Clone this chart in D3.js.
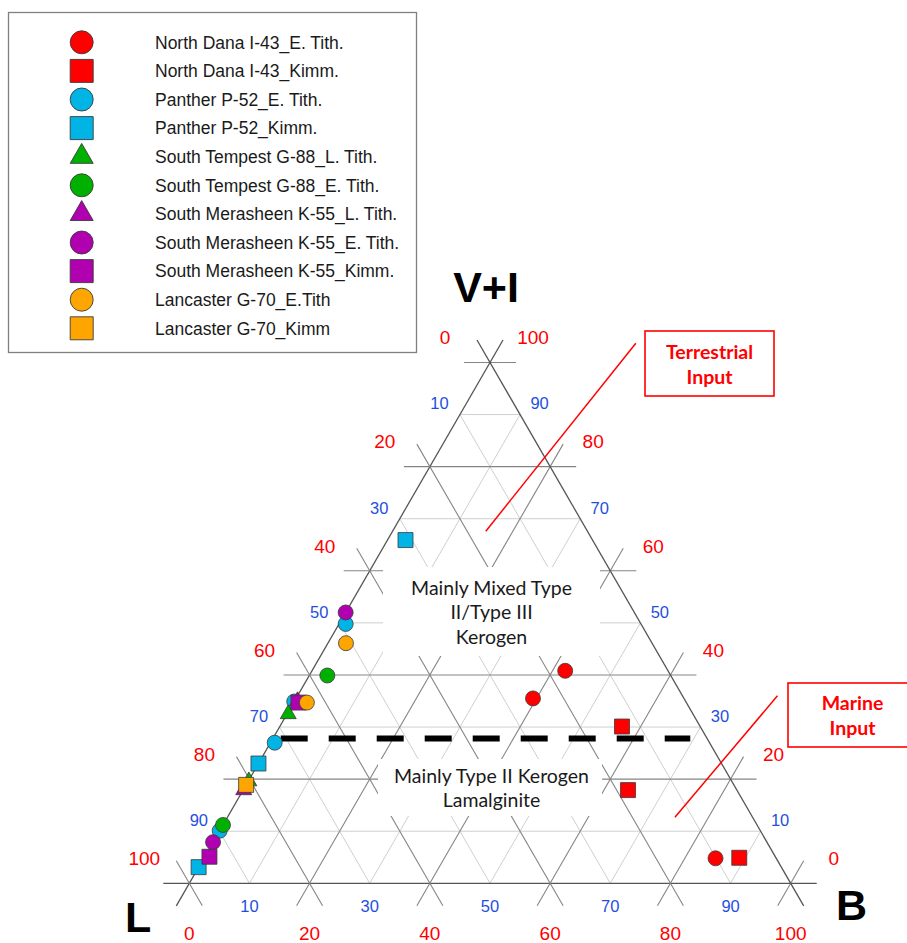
<!DOCTYPE html>
<html>
<head>
<meta charset="utf-8">
<script src="https://cdn.jsdelivr.net/npm/d3@7"></script>
<style>
  html, body { margin: 0; padding: 0; background: #ffffff; }
  svg { display: block; }
</style>
</head>
<body>
<div id="chart"></div>
<script>
// ---- Maceral composition data, each sample as [L, B, V+I] in percent ----
const northDanaETith   = [[17.1, 42.1, 40.8], [25.1, 39.4, 35.5], [10.1, 85.1, 4.8]];
const northDanaKimm    = [[13.0, 56.9, 30.1], [18.1, 64.0, 17.9], [6.1, 89.0, 4.9]];
const pantherETith     = [[49.1, 1.1, 49.8], [65.1, 0.0, 34.9], [72.3, 0.7, 27.0], [89.9, 0.0, 10.1]];
const pantherKimm      = [[31.1, 3.0, 65.9], [77.0, 0.0, 23.0], [96.9, 0.0, 3.1]];
const sTempestLTith    = [[67.3, 0.2, 32.5], [80.3, 0.1, 19.6]];
const sTempestETith    = [[57.1, 3.0, 39.9], [88.8, 0.0, 11.2]];
const sMerasheenLTith  = [[64.5, 0.5, 35.0], [82.0, 0.1, 17.9]];
const sMerasheenETith  = [[48.0, 0.0, 52.0], [92.1, 0.0, 7.9]];
const sMerasheenKimm   = [[64.5, 0.8, 34.7], [94.1, 0.8, 5.1]];
const lancasterETith   = [[50.9, 3.0, 46.1], [63.1, 2.2, 34.7]];
const lancasterKimm    = [[81.1, 0.0, 18.9]];

const seriesNames = [
  "North Dana I-43_E. Tith.", "North Dana I-43_Kimm.",
  "Panther P-52_E. Tith.", "Panther P-52_Kimm.",
  "South Tempest G-88_L. Tith.", "South Tempest G-88_E. Tith.",
  "South Merasheen K-55_L. Tith.", "South Merasheen K-55_E. Tith.", "South Merasheen K-55_Kimm.",
  "Lancaster G-70_E.Tith", "Lancaster G-70_Kimm"
];
const seriesValues = [
  northDanaETith, northDanaKimm, pantherETith, pantherKimm,
  sTempestLTith, sTempestETith, sMerasheenLTith, sMerasheenETith, sMerasheenKimm,
  lancasterETith, lancasterKimm
];
const seriesColors = [
  "#ff0000", "#ff0000", "#00b4e6", "#00b4e6", "#00b000", "#00b000",
  "#b000b0", "#b000b0", "#b000b0", "#ffa500", "#ffa500"
];
const seriesShapes = [
  "circle", "square", "circle", "square", "triangle", "circle",
  "triangle", "circle", "square", "circle", "square"
];

// axis tick values (percent)
const majorTicks = [0, 20, 40, 60, 80, 100];
const minorTicks = [10, 30, 50, 70, 90];

// field boundary (V+I) and its extent along B
const boundaryVI = 27.8;
const boundaryB = [1.3, 69.4];

// field names and source annotations
const fieldUpper = ["Mainly Mixed Type", "II/Type III", "Kerogen"];
const fieldLower = ["Mainly Type II Kerogen", "Lamalginite"];
const annoTerrestrial = ["Terrestrial", "Input"];
const annoMarine = ["Marine", "Input"];
// annotation leader lines as [B, V+I] endpoints
const terrestrialLeader = [[22.4, 103.7], [15.5, 67.6]];
const marineLeader = [[79.8, 36.0], [74.4, 12.7]];

// ---- layout ----
const width = 907, height = 943;
const svg = d3.select("#chart").append("svg")
  .attr("width", width).attr("height", height);

const side = 601.4;
const triH = side * Math.sqrt(3) / 2;
const x0 = 189.3, yBase = 883.3;

// B + V+I/2 runs along the base; V+I runs vertically
const xScale = d3.scaleLinear().domain([0, 100]).range([x0, x0 + side]);
const yScale = d3.scaleLinear().domain([0, 100]).range([yBase, yBase - triH]);
const proj = (b, vi) => [xScale(b + vi / 2), yScale(vi)];

const ext = 26;
function extendSeg(p, q, dir, e) {
  return [[p[0] - dir[0] * e, p[1] - dir[1] * e], [q[0] + dir[0] * e, q[1] + dir[1] * e]];
}
function unit(a, b) {
  const dx = b[0] - a[0], dy = b[1] - a[1], l = Math.hypot(dx, dy);
  return [dx / l, dy / l];
}
const dirVI = unit(proj(0, 0), proj(100, 0));   // constant V+I
const dirB  = unit(proj(0, 0), proj(0, 100));   // constant B
const dirL  = unit(proj(100, 0), proj(0, 100)); // constant L

// segment for a constant value of one component
function isoLine(kind, v) {
  if (kind === "VI") return [proj(0, v), proj(100 - v, v), dirVI];
  if (kind === "B")  return [proj(v, 0), proj(v, 100 - v), dirB];
  return [proj(100 - v, 0), proj(0, 100 - v), dirL];
}

const grid = svg.append("g");
const lineGen = d3.line();

// minor grid
["VI", "B", "L"].forEach(k => {
  minorTicks.forEach(v => {
    const [p, q] = isoLine(k, v);
    grid.append("path").attr("d", lineGen([p, q]))
      .attr("stroke", "#cfcfcf").attr("stroke-width", 1).attr("fill", "none");
  });
});
// major grid, extended beyond the edges
["VI", "B", "L"].forEach(k => {
  majorTicks.forEach(v => {
    const [p, q, d] = isoLine(k, v);
    grid.append("path").attr("d", lineGen(extendSeg(p, q, d, ext)))
      .attr("stroke", v === 0 ? "#555555" : "#858585")
      .attr("stroke-width", v === 0 ? 1.3 : 1.1).attr("fill", "none");
  });
});

// white panels behind field names
svg.append("rect").attr("x", 383).attr("y", 567).attr("width", 217).attr("height", 89).attr("fill", "#ffffff");
svg.append("rect").attr("x", 378).attr("y", 759).attr("width", 224).attr("height", 57).attr("fill", "#ffffff");

// boundary between fields
svg.append("path")
  .attr("d", lineGen([proj(boundaryB[0], boundaryVI), proj(boundaryB[1], boundaryVI)]))
  .attr("stroke", "#000").attr("stroke-width", 6).attr("stroke-dasharray", "27,21").attr("fill", "none");

// field names
const fieldFont = "Lato, 'Open Sans', sans-serif";
svg.append("g").selectAll("text").data(fieldUpper).join("text")
  .attr("x", 491.5).attr("y", (d, i) => 594.5 + i * 24.6)
  .attr("text-anchor", "middle").attr("font-family", fieldFont).attr("font-size", 19.5)
  .attr("fill", "#1a1a1a").text(d => d);
svg.append("g").selectAll("text").data(fieldLower).join("text")
  .attr("x", 491.5).attr("y", (d, i) => 782.5 + i * 24.6)
  .attr("text-anchor", "middle").attr("font-family", fieldFont).attr("font-size", 19.5)
  .attr("fill", "#1a1a1a").text(d => d);

// tick labels
const labelFont = "'Liberation Sans', Arial, sans-serif";
const ticks = svg.append("g").attr("font-family", labelFont).attr("text-anchor", "middle");
function tickLabel(pt, dx, dy, txt, color, size) {
  ticks.append("text").attr("x", pt[0] + dx).attr("y", pt[1] + dy + size * 0.358)
    .attr("font-size", size).attr("fill", color).text(txt);
}
majorTicks.forEach(v => {
  tickLabel(proj(0, 100 - v), -45, -25, v, "#ff0000", 19);   // L on the left edge
  tickLabel(proj(100 - v, v), 43, -25, v, "#ff0000", 19);    // V+I on the right edge
  tickLabel(proj(v, 0), 0, 50, v, "#ff0000", 19);            // B along the base
});
minorTicks.forEach(v => {
  tickLabel(proj(0, 100 - v), -20.5, -11, v, "#1f4fe0", 16.5);
  tickLabel(proj(100 - v, v), 19.5, -11, v, "#1f4fe0", 16.5);
  tickLabel(proj(v, 0), 0, 23, v, "#1f4fe0", 16.5);
});

// apex titles
const titles = svg.append("g").attr("font-family", labelFont).attr("font-weight", "bold")
  .attr("font-size", 43).attr("fill", "#000");
titles.append("text").attr("x", 486).attr("y", 301.5).attr("text-anchor", "middle").text("V+I");
titles.append("text").attr("x", 125).attr("y", 932).text("L");
titles.append("text").attr("x", 836).attr("y", 920).text("B");

// annotations
const annoFont = "Lato, 'Open Sans', sans-serif";
function annotation(box, lines, cx, cy0, leader) {
  svg.append("rect").attr("x", box[0]).attr("y", box[1]).attr("width", box[2]).attr("height", box[3])
    .attr("fill", "#ffffff").attr("stroke", "#ff0000").attr("stroke-width", 1.6);
  svg.append("g").selectAll("text").data(lines).join("text")
    .attr("x", cx).attr("y", (d, i) => cy0 + i * 25)
    .attr("text-anchor", "middle").attr("font-family", annoFont).attr("font-weight", "bold")
    .attr("font-size", 19.5).attr("fill", "#ff0000").text(d => d);
  svg.append("path").attr("d", lineGen(leader.map(d => proj(d[0], d[1]))))
    .attr("stroke", "#ff0000").attr("stroke-width", 1.5).attr("fill", "none");
}
annotation([645, 331, 129, 65], annoTerrestrial, 709.5, 358.5, terrestrialLeader);
annotation([788, 683, 130, 64], annoMarine, 852.5, 710, marineLeader);

// marker shapes
function markerPath(shape, s) {
  if (shape === "circle") {
    const r = s / 2;
    return `M${r},0A${r},${r} 0 1,1 ${-r},0A${r},${r} 0 1,1 ${r},0Z`;
  }
  if (shape === "square") {
    const h = s / 2;
    return `M${-h},${-h}H${h}V${h}H${-h}Z`;
  }
  const top = s / Math.sqrt(3), bot = s / (2 * Math.sqrt(3));
  return `M0,${-top}L${s / 2},${bot}L${-s / 2},${bot}Z`;
}
const markerSize = { circle: 15, square: 15, triangle: 16 };

// data points
const points = svg.append("g");
seriesValues.forEach((vals, si) => {
  points.append("g").selectAll("path").data(vals).join("path")
    .attr("transform", d => { const p = proj(d[1], d[2]); return `translate(${p[0]},${p[1]})`; })
    .attr("d", markerPath(seriesShapes[si], markerSize[seriesShapes[si]]))
    .attr("fill", seriesColors[si]).attr("stroke", "#3a3a3a").attr("stroke-width", 0.8);
});

// legend
const legend = svg.append("g");
legend.append("rect").attr("x", 8.5).attr("y", 12.5).attr("width", 408).attr("height", 340)
  .attr("fill", "#ffffff").attr("stroke", "#808080").attr("stroke-width", 1.3);
const legendRow = d3.scaleLinear().domain([0, 1]).range([42.3, 70.9]);
const legendSize = { circle: 23, square: 23, triangle: 23 };
seriesNames.forEach((name, i) => {
  const y = legendRow(i);
  legend.append("path").attr("transform", `translate(81.7,${y})`)
    .attr("d", markerPath(seriesShapes[i], legendSize[seriesShapes[i]]))
    .attr("fill", seriesColors[i]).attr("stroke", "#3a3a3a").attr("stroke-width", 0.9);
  legend.append("text").attr("x", 155).attr("y", y + 6.2)
    .attr("font-family", labelFont).attr("font-size", 17.5).attr("fill", "#1a1a1a").text(name);
});
</script>
</body>
</html>
